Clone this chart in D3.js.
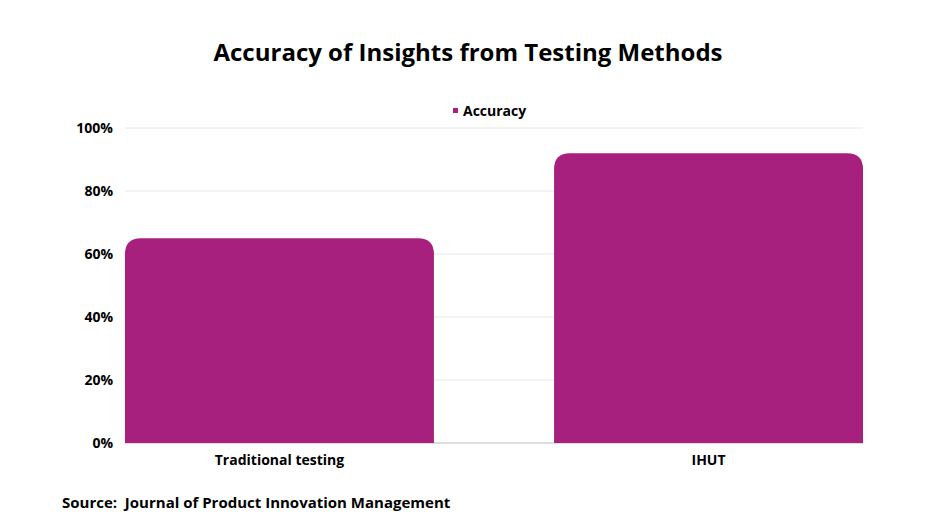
<!DOCTYPE html>
<html lang="en">
<head>
<meta charset="utf-8">
<script src="https://d3js.org/d3.v7.min.js"></script>
<style>
  body { margin: 0; background: #fff; }
  text { font-family: "Open Sans", "Noto Sans", sans-serif; }
</style>
</head>
<body>
<svg width="936" height="526"></svg>
<script>
var categories = ["Traditional testing", "IHUT"];
var accuracy = [65, 92];
var yTicks = [0, 20, 40, 60, 80, 100];

var svg = d3.select("svg");
var color = "#a8207d";

var x = d3.scaleBand().domain(categories).range([125, 863]).paddingInner(0.28).paddingOuter(0);
var y = d3.scaleLinear().domain([0, 100]).range([443, 128]);

// title
svg.append("text")
    .attr("x", 468).attr("y", 61)
    .attr("text-anchor", "middle")
    .attr("font-size", 24).attr("font-weight", "bold")
    .text("Accuracy of Insights from Testing Methods");

// gridlines
svg.append("g").selectAll("line")
    .data(yTicks)
    .enter().append("line")
    .attr("x1", 125).attr("x2", 863)
    .attr("y1", function(d) { return y(d); })
    .attr("y2", function(d) { return y(d); })
    .attr("stroke", function(d) { return d === 0 ? "#bbb" : "#e6e6e6"; });

// y labels
svg.append("g").selectAll("text")
    .data(yTicks)
    .enter().append("text")
    .attr("x", 113)
    .attr("y", function(d) { return y(d) + 5; })
    .attr("text-anchor", "end")
    .attr("font-size", 14).attr("font-weight", "bold")
    .text(function(d) { return d + "%"; });

// bars with rounded tops
var r = 16;
svg.append("g").selectAll("path")
    .data(categories)
    .enter().append("path")
    .attr("fill", color)
    .attr("d", function(d, i) {
        var x0 = x(d), w = x.bandwidth(), y0 = y(accuracy[i]), yb = y(0);
        return "M" + x0 + "," + yb +
            "V" + (y0 + r) +
            "Q" + x0 + "," + y0 + " " + (x0 + r) + "," + y0 +
            "H" + (x0 + w - r) +
            "Q" + (x0 + w) + "," + y0 + " " + (x0 + w) + "," + (y0 + r) +
            "V" + yb + "Z";
    });

// x labels
svg.append("g").selectAll("text")
    .data(categories)
    .enter().append("text")
    .attr("x", function(d) { return x(d) + x.bandwidth() / 2; })
    .attr("y", 465)
    .attr("text-anchor", "middle")
    .attr("font-size", 14).attr("font-weight", "bold")
    .text(function(d) { return d; });

// legend
svg.append("rect").attr("x", 453).attr("y", 108).attr("width", 5).attr("height", 5).attr("fill", color);
svg.append("text").attr("x", 463).attr("y", 116)
    .attr("font-size", 14).attr("font-weight", "bold").text("Accuracy");

// source
svg.append("text").attr("x", 62).attr("y", 508)
    .attr("font-size", 15).attr("font-weight", "bold")
    .attr("xml:space", "preserve")
    .text("Source:  Journal of Product Innovation Management");
</script>
</body>
</html>
